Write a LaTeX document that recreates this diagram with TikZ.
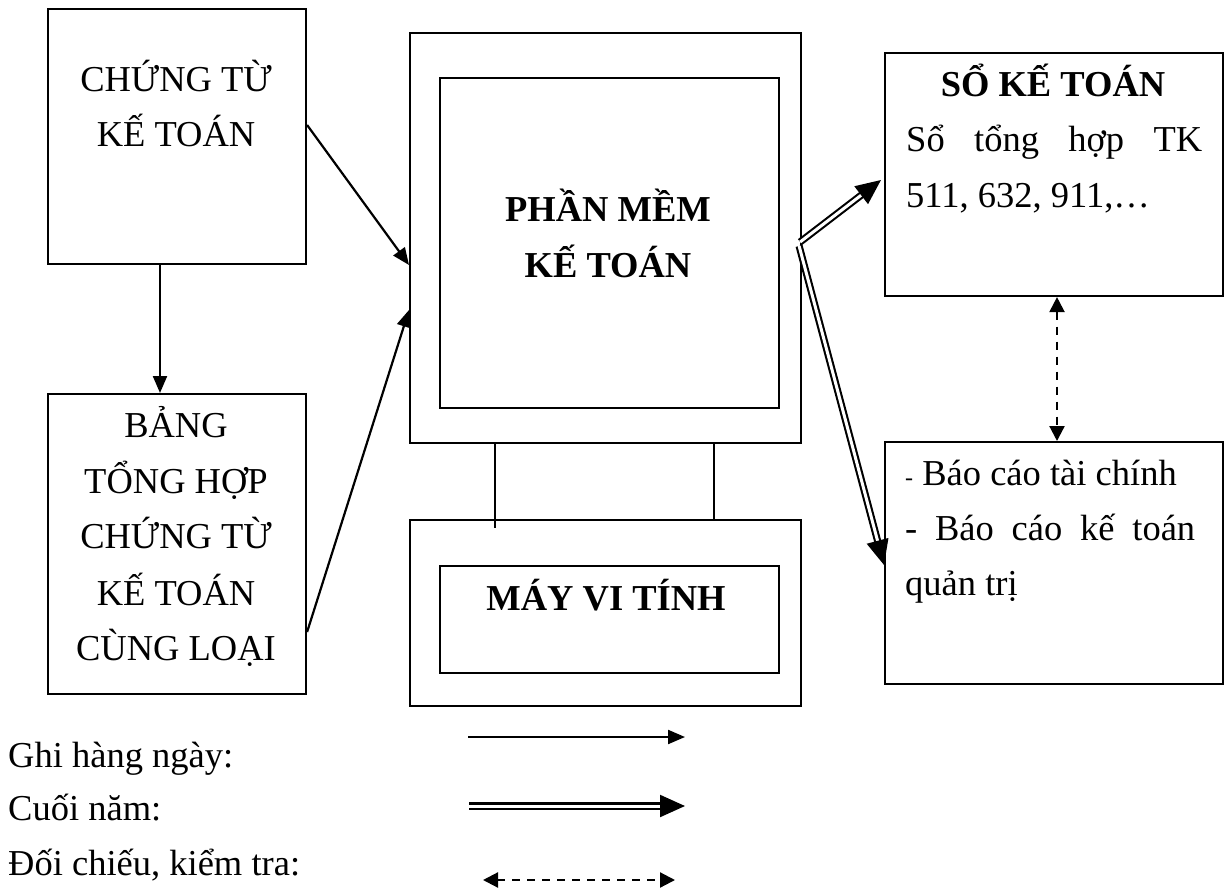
\documentclass[tikz,border=0pt]{standalone}
\usepackage{fontspec}
\setmainfont{Liberation Serif}
\usetikzlibrary{arrows.meta,calc}
\begin{document}
\begin{tikzpicture}[x=1pt,y=-1pt,
  box/.style={draw,line width=2.1pt,rectangle,anchor=north west,inner sep=0pt},
  txt/.style={font=\fontsize{36.5}{55.5}\selectfont,inner sep=0pt},
  btxt/.style={font=\fontsize{36.5}{55.5}\selectfont\bfseries,inner sep=0pt},
  stand/.style={line width=2.1pt},
  daily/.style={line width=2.2pt,-{Triangle[length=17pt,width=14pt]}},
  yearly/.style={double,line width=2.1pt,double distance=3pt,-{Triangle[length=25pt,width=22pt]}},
  check/.style={line width=2.2pt,dash pattern=on 8pt off 7pt,
    {Triangle[length=15pt,width=15pt]}-{Triangle[length=15pt,width=15pt]}}]
\useasboundingbox (0,0) rectangle (1225,890);

% boxes
\node[box,minimum width=258pt,minimum height=255pt] (ct) at (47,8) {};
\node[box,minimum width=258pt,minimum height=300pt] (bang) at (47,393) {};
\node[box,minimum width=391pt,minimum height=410pt] (mon) at (409,32) {};
\node[box,minimum width=339pt,minimum height=330pt] (scr) at (439,77) {};
\node[box,minimum width=391pt,minimum height=186pt] (may) at (409,519) {};
\node[box,minimum width=339pt,minimum height=107pt] (mayin) at (439,565) {};
\node[box,minimum width=338pt,minimum height=243pt] (so) at (884,52) {};
\node[box,minimum width=338pt,minimum height=242pt] (bao) at (884,441) {};

% texts
\node[txt,anchor=base] (ct1) at (176,92) {CHỨNG TỪ};
\node[txt,anchor=base] (ct2) at (176,147) {KẾ TOÁN};
\node[txt,anchor=base] (bg1) at (176,437) {BẢNG};
\node[txt,anchor=base] (bg2) at (176,493) {TỔNG HỢP};
\node[txt,anchor=base] (bg3) at (176,548) {CHỨNG TỪ};
\node[txt,anchor=base] (bg4) at (176,605) {KẾ TOÁN};
\node[txt,anchor=base] (bg5) at (176,660) {CÙNG LOẠI};
\node[btxt,anchor=base] (pm1) at (608,222) {PHẦN MỀM};
\node[btxt,anchor=base] (pm2) at (608,278) {KẾ TOÁN};
\node[btxt,anchor=base] (mvt) at (606,610) {MÁY VI TÍNH};
\node[btxt,anchor=base] (so1) at (1053,97) {SỔ KẾ TOÁN};
\node[txt,anchor=base west] (so2) at (906,152) {\makebox[296pt][s]{Sổ tổng hợp TK}};
\node[txt,anchor=base west] (so3) at (906,208) {511, 632, 911,…};
\node[txt,anchor=base west] (bc1) at (905,485) {{\fontsize{24}{24}\selectfont -} Báo cáo tài chính};
\node[txt,anchor=base west] (bc2) at (905,540) {\makebox[290pt][s]{- Báo cáo kế toán}};
\node[txt,anchor=base west] (bc3) at (905,595) {quản trị};
\node[txt,anchor=base west] (lg1) at (8,767) {Ghi hàng ngày:};
\node[txt,anchor=base west] (lg2) at (8,820) {Cuối năm:};
\node[txt,anchor=base west] (lg3) at (8,875) {Đối chiếu, kiểm tra:};

% monitor stand
\draw[stand] ($(mon.south west)+(86,0)$) -- ($(may.north west)+(86,9)$);
\draw[stand] ($(mon.south west)+(305,0)$) -- ($(may.north west)+(305,0)$);

% connectors
\coordinate (a1s) at ($(ct.north east)+(0,117)$);
\coordinate (a1e) at ($(mon.north west)+(0,233)$);
\coordinate (a2s) at ($(bang.north east)+(0,239)$);
\coordinate (a2e) at ($(mon.north west)+(0,278)$);
\draw[daily] (a1s) -- (a1e);
\draw[daily] (a2s) -- (a2e);
\draw[daily] ($(ct.south west)+(113,0)$) -- ($(bang.north west)+(113,0)$);

\coordinate (y1s) at ($(mon.north east)+(-2,210)$);
\coordinate (y1e) at ($(so.north west)+(-3,128)$);
\coordinate (y2s) at ($(mon.north east)+(-3,214)$);
\coordinate (y2e) at ($(bao.north west)+(0,124)$);
\draw[yearly] (y1s) -- (y1e);
\draw[yearly] (y2s) -- (y2e);

\draw[check] ($(so.south west)+(173,0)$) -- ($(bao.north west)+(173,0)$);

% legend
\coordinate (l1s) at (468,737); \coordinate (l1e) at (685,737);
\coordinate (l2s) at (469,806); \coordinate (l2e) at (685,806);
\coordinate (l3s) at (483,880); \coordinate (l3e) at (675,880);
\draw[daily] (l1s) -- (l1e);
\draw[yearly] (l2s) -- (l2e);
\draw[check] (l3s) -- (l3e);
\end{tikzpicture}
\end{document}
